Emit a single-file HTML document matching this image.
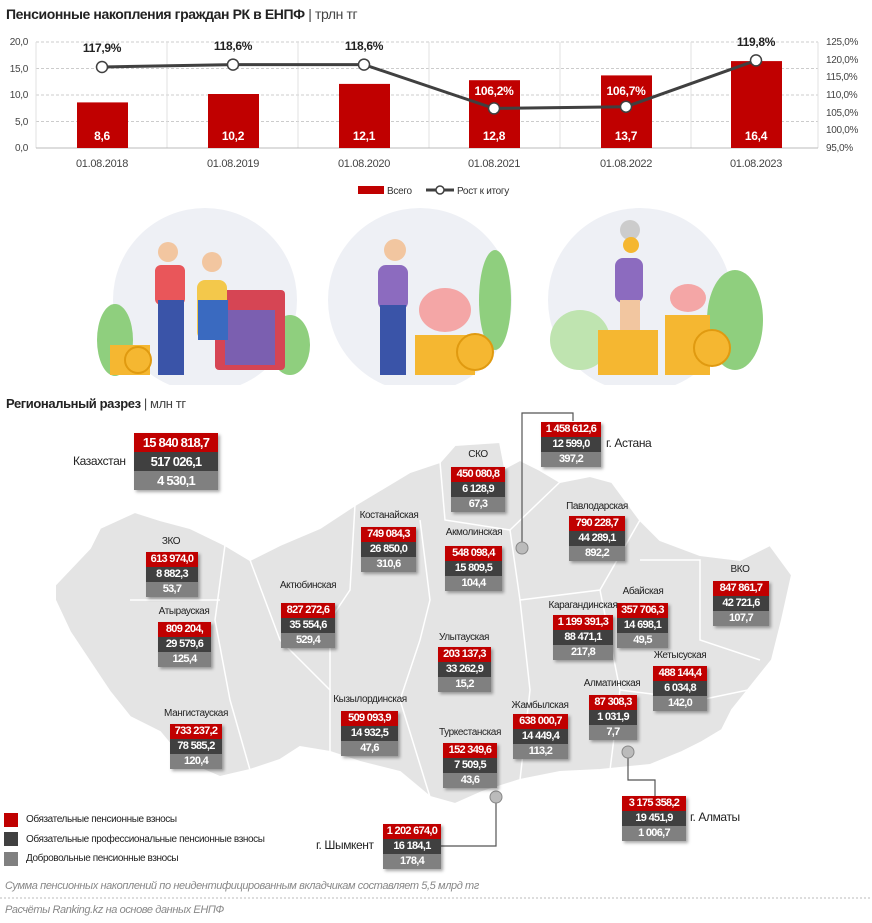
<!DOCTYPE html>
<html><head><meta charset="utf-8">
<style>
body{margin:0;background:#fff;}
#w{position:relative;width:872px;height:923px;overflow:hidden;font-family:"Liberation Sans",sans-serif;color:#222;}
.t{position:absolute;white-space:nowrap;letter-spacing:-0.4px;}
.b{position:absolute;box-shadow:2px 2px 3px rgba(0,0,0,.35);}
.b div{height:15px;line-height:15px;text-align:center;color:#fff;font-weight:bold;font-size:11px;white-space:nowrap;letter-spacing:-0.7px;overflow:visible;}
.r{background:#c00000}.d{background:#404040}.g{background:#808080}
.big div{height:19px;line-height:19px;font-size:13px;letter-spacing:-0.8px;}
.l{font-size:10px;color:#222;transform:translateX(-50%);}
svg text{font-family:"Liberation Sans",sans-serif;letter-spacing:-0.3px;}
</style></head><body><div id="w">
<div class="t" style="left:6px;top:6px;font-size:14px;font-weight:bold;">Пенсионные накопления граждан РК в ЕНПФ <span style="font-weight:normal;color:#444">| трлн тг</span></div>
<svg width="872" height="200" style="position:absolute;left:0;top:0">
<g stroke="#ccc" stroke-dasharray="3,2" stroke-width="1">
<line x1="36" y1="42" x2="818" y2="42"/><line x1="36" y1="68.5" x2="818" y2="68.5"/><line x1="36" y1="95" x2="818" y2="95"/><line x1="36" y1="121.5" x2="818" y2="121.5"/></g>
<g stroke="#e0e0e0"><line x1="36" y1="42" x2="36" y2="148"/><line x1="167" y1="42" x2="167" y2="148"/><line x1="298" y1="42" x2="298" y2="148"/><line x1="429" y1="42" x2="429" y2="148"/><line x1="560" y1="42" x2="560" y2="148"/><line x1="691" y1="42" x2="691" y2="148"/><line x1="818" y1="42" x2="818" y2="148"/></g>
<line x1="36" y1="148" x2="818" y2="148" stroke="#bbb"/>
<g fill="#444" font-size="10" text-anchor="end"><text x="28" y="45">20,0</text><text x="28" y="72">15,0</text><text x="28" y="98">10,0</text><text x="28" y="125">5,0</text><text x="28" y="151">0,0</text></g>
<g fill="#444" font-size="10"><text x="826" y="45">125,0%</text><text x="826" y="63">120,0%</text><text x="826" y="80">115,0%</text><text x="826" y="98">110,0%</text><text x="826" y="116">105,0%</text><text x="826" y="133">100,0%</text><text x="826" y="151">95,0%</text></g>
<g fill="#c00000"><rect x="77" y="102.4" width="51" height="45.6"/><rect x="208" y="94" width="51" height="54"/><rect x="339" y="83.9" width="51" height="64.1"/><rect x="469" y="80.2" width="51" height="67.8"/><rect x="601" y="75.4" width="51" height="72.6"/><rect x="731" y="61.1" width="51" height="86.9"/></g>
<g fill="#fff" font-size="12" font-weight="bold" text-anchor="middle"><text x="102" y="140">8,6</text><text x="233" y="140">10,2</text><text x="364" y="140">12,1</text><text x="494" y="140">12,8</text><text x="626" y="140">13,7</text><text x="756" y="140">16,4</text><text x="494" y="95">106,2%</text><text x="626" y="95">106,7%</text></g>
<g fill="#222" font-size="12" font-weight="bold" text-anchor="middle"><text x="102" y="52">117,9%</text><text x="233" y="50">118,6%</text><text x="364" y="50">118,6%</text><text x="756" y="46">119,8%</text></g>
<polyline points="102,67 233,64.6 364,64.6 494,108.4 626,106.7 756,60.4" fill="none" stroke="#404040" stroke-width="3"/>
<g fill="#fff" stroke="#404040" stroke-width="1.5"><circle cx="102" cy="67" r="5.5"/><circle cx="233" cy="64.6" r="5.5"/><circle cx="364" cy="64.6" r="5.5"/><circle cx="494" cy="108.4" r="5.5"/><circle cx="626" cy="106.7" r="5.5"/><circle cx="756" cy="60.4" r="5.5"/></g>
<g fill="#444" font-size="11" text-anchor="middle"><text x="102" y="167">01.08.2018</text><text x="233" y="167">01.08.2019</text><text x="364" y="167">01.08.2020</text><text x="494" y="167">01.08.2021</text><text x="626" y="167">01.08.2022</text><text x="756" y="167">01.08.2023</text></g>
<rect x="358" y="186" width="26" height="8" fill="#c00000"/><text x="387" y="194" font-size="10" fill="#333">Всего</text>
<line x1="426" y1="190" x2="454" y2="190" stroke="#404040" stroke-width="3"/><circle cx="440" cy="190" r="4" fill="#fff" stroke="#404040" stroke-width="1.5"/><text x="457" y="194" font-size="10" fill="#333">Рост к итогу</text>
</svg>
<svg width="872" height="180" style="position:absolute;left:0;top:205" viewBox="0 205 872 180">
<circle cx="205" cy="300" r="92" fill="#eef0f5"/><circle cx="420" cy="300" r="92" fill="#eef0f5"/><circle cx="640" cy="300" r="92" fill="#eef0f5"/>
<ellipse cx="115" cy="340" rx="18" ry="36" fill="#8fcf7e"/><ellipse cx="290" cy="345" rx="20" ry="30" fill="#8fcf7e"/><ellipse cx="495" cy="300" rx="16" ry="50" fill="#8fcf7e"/><ellipse cx="580" cy="340" rx="30" ry="30" fill="#bfe4b0"/><ellipse cx="735" cy="320" rx="28" ry="50" fill="#8fcf7e"/>
<rect x="215" y="290" width="70" height="80" rx="4" fill="#d64554"/><rect x="225" y="310" width="50" height="55" fill="#7b5fb0"/>
<rect x="155" y="265" width="30" height="40" rx="6" fill="#e9565a"/><rect x="158" y="300" width="26" height="75" fill="#3a54a8"/><circle cx="168" cy="252" r="10" fill="#f2c6a0"/>
<rect x="197" y="280" width="30" height="60" rx="8" fill="#f3c84b"/><rect x="198" y="300" width="30" height="40" fill="#3a6ac0"/><circle cx="212" cy="262" r="10" fill="#f2c6a0"/>
<rect x="110" y="345" width="40" height="30" fill="#f5b731"/><circle cx="138" cy="360" r="13" fill="#f5b731" stroke="#e09a10" stroke-width="2"/>
<rect x="378" y="265" width="30" height="45" rx="8" fill="#8c6bbf"/><rect x="380" y="305" width="26" height="70" fill="#3a54a8"/><circle cx="395" cy="250" r="11" fill="#f2c6a0"/>
<ellipse cx="445" cy="310" rx="26" ry="22" fill="#f4a6a6"/><rect x="415" y="335" width="60" height="40" fill="#f5b731"/><circle cx="475" cy="352" r="18" fill="#f5b731" stroke="#e09a10" stroke-width="2"/>
<rect x="615" y="258" width="28" height="45" rx="8" fill="#8c6bbf"/><rect x="620" y="300" width="20" height="35" fill="#f2c6a0"/><circle cx="630" cy="230" r="10" fill="#ccc"/><circle cx="631" cy="245" r="8" fill="#f5b731"/>
<ellipse cx="688" cy="298" rx="18" ry="14" fill="#f4a6a6"/><rect x="598" y="330" width="60" height="45" fill="#f5b731"/><rect x="665" y="315" width="45" height="60" fill="#f5b731"/><circle cx="712" cy="348" r="18" fill="#f5b731" stroke="#e09a10" stroke-width="2"/>
</svg>
<div class="t" style="left:6px;top:396px;font-size:13px;font-weight:bold;">Региональный разрез <span style="font-weight:normal;color:#444">| млн тг</span></div>
<svg width="872" height="923" style="position:absolute;left:0;top:0">
<polygon fill="#e4e4e4" stroke="#fff" stroke-width="2" points="55,585 90,548 100,528 135,512 160,520 190,528 225,545 250,560 280,545 320,528 355,505 380,490 410,472 440,462 455,445 500,442 505,468 520,460 540,470 560,482 590,476 612,482 640,520 660,540 700,555 740,560 770,545 792,575 782,620 772,660 748,690 732,710 722,730 702,742 682,752 650,765 600,770 560,772 520,780 482,792 455,804 430,797 400,772 360,762 330,752 300,747 280,760 250,770 220,777 185,762 160,732 130,717 110,692 90,662 70,632 55,600"/>
<g fill="none" stroke="#fff" stroke-width="1.5">
<path d="M225,545 L215,620 L230,700 L250,770"/><path d="M130,600 L220,600"/><path d="M250,560 L280,640 L330,690 L330,752"/><path d="M355,505 L350,590 L330,620 L330,690"/><path d="M420,520 L430,600 L420,640 L400,700 L430,797"/><path d="M440,462 L445,520 L510,530 L560,482"/><path d="M510,530 L520,600 L600,590 L640,520"/><path d="M520,600 L530,690 L520,780"/><path d="M600,590 L620,690 L610,770"/><path d="M620,690 L700,700 L748,690"/><path d="M640,560 L700,560 L700,640 L760,660"/></g>
<g fill="none" stroke="#555" stroke-width="1.2"><path d="M522,548 L522,413 L573,413 L573,421"/><path d="M628,752 L628,780 L655,780 L655,796"/><path d="M496,797 L496,846 L441,846"/></g>
<g fill="#bbb" stroke="#888"><ellipse cx="522" cy="548" rx="6" ry="6"/><ellipse cx="628" cy="752" rx="6" ry="6"/><ellipse cx="496" cy="797" rx="6" ry="6"/></g>
<line x1="0" y1="898" x2="872" y2="898" stroke="#bbb" stroke-dasharray="2,2"/>
</svg>
<div class="b big" style="left:134px;top:433px;width:84px"><div class="r">15 840 818,7</div><div class="d">517 026,1</div><div class="g">4 530,1</div></div>
<div class="t" style="left:73px;top:454px;font-size:12px;">Казахстан</div>
<div class="b" style="left:541px;top:422px;width:60px"><div class="r">1 458 612,6</div><div class="d">12 599,0</div><div class="g">397,2</div></div>
<div class="t" style="left:606px;top:436px;font-size:12px;">г. Астана</div>
<div class="t l" style="left:478px;top:449px;">СКО</div>
<div class="b" style="left:451px;top:467px;width:54px"><div class="r">450 080,8</div><div class="d">6 128,9</div><div class="g">67,3</div></div>
<div class="t l" style="left:597px;top:501px;">Павлодарская</div>
<div class="b" style="left:569px;top:516px;width:56px"><div class="r">790 228,7</div><div class="d">44 289,1</div><div class="g">892,2</div></div>
<div class="t l" style="left:389px;top:510px;">Костанайская</div>
<div class="b" style="left:361px;top:527px;width:55px"><div class="r">749 084,3</div><div class="d">26 850,0</div><div class="g">310,6</div></div>
<div class="t l" style="left:474px;top:527px;">Акмолинская</div>
<div class="b" style="left:445px;top:546px;width:57px"><div class="r">548 098,4</div><div class="d">15 809,5</div><div class="g">104,4</div></div>
<div class="t l" style="left:171px;top:536px;">ЗКО</div>
<div class="b" style="left:146px;top:552px;width:52px"><div class="r">613 974,0</div><div class="d">8 882,3</div><div class="g">53,7</div></div>
<div class="t l" style="left:308px;top:580px;">Актюбинская</div>
<div class="b" style="left:281px;top:603px;width:54px"><div class="r">827 272,6</div><div class="d">35 554,6</div><div class="g">529,4</div></div>
<div class="t l" style="left:184px;top:606px;">Атырауская</div>
<div class="b" style="left:158px;top:622px;width:53px"><div class="r">809 204,</div><div class="d">29 579,6</div><div class="g">125,4</div></div>
<div class="t l" style="left:740px;top:564px;">ВКО</div>
<div class="b" style="left:713px;top:581px;width:56px"><div class="r">847 861,7</div><div class="d">42 721,6</div><div class="g">107,7</div></div>
<div class="t l" style="left:643px;top:586px;">Абайская</div>
<div class="b" style="left:617px;top:603px;width:51px"><div class="r">357 706,3</div><div class="d">14 698,1</div><div class="g">49,5</div></div>
<div class="t l" style="left:583px;top:600px;">Карагандинская</div>
<div class="b" style="left:553px;top:615px;width:60px"><div class="r">1 199 391,3</div><div class="d">88 471,1</div><div class="g">217,8</div></div>
<div class="t l" style="left:464px;top:632px;">Улытауская</div>
<div class="b" style="left:438px;top:647px;width:53px"><div class="r">203 137,3</div><div class="d">33 262,9</div><div class="g">15,2</div></div>
<div class="t l" style="left:680px;top:650px;">Жетысуская</div>
<div class="b" style="left:653px;top:666px;width:54px"><div class="r">488 144,4</div><div class="d">6 034,8</div><div class="g">142,0</div></div>
<div class="t l" style="left:612px;top:678px;">Алматинская</div>
<div class="b" style="left:589px;top:695px;width:48px"><div class="r">87 308,3</div><div class="d">1 031,9</div><div class="g">7,7</div></div>
<div class="t l" style="left:540px;top:700px;">Жамбылская</div>
<div class="b" style="left:513px;top:714px;width:55px"><div class="r">638 000,7</div><div class="d">14 449,4</div><div class="g">113,2</div></div>
<div class="t l" style="left:370px;top:694px;">Кызылординская</div>
<div class="b" style="left:341px;top:711px;width:57px"><div class="r">509 093,9</div><div class="d">14 932,5</div><div class="g">47,6</div></div>
<div class="t l" style="left:196px;top:708px;">Мангистауская</div>
<div class="b" style="left:170px;top:724px;width:52px"><div class="r">733 237,2</div><div class="d">78 585,2</div><div class="g">120,4</div></div>
<div class="t l" style="left:470px;top:727px;">Туркестанская</div>
<div class="b" style="left:443px;top:743px;width:54px"><div class="r">152 349,6</div><div class="d">7 509,5</div><div class="g">43,6</div></div>
<div class="b" style="left:622px;top:796px;width:64px"><div class="r">3 175 358,2</div><div class="d">19 451,9</div><div class="g">1 006,7</div></div>
<div class="t" style="left:690px;top:810px;font-size:12px;">г. Алматы</div>
<div class="b" style="left:383px;top:824px;width:58px"><div class="r">1 202 674,0</div><div class="d">16 184,1</div><div class="g">178,4</div></div>
<div class="t" style="left:316px;top:838px;font-size:12px;">г. Шымкент</div>
<div style="position:absolute;left:4px;top:813px;width:14px;height:14px;background:#c00000"></div>
<div style="position:absolute;left:4px;top:832px;width:14px;height:14px;background:#404040"></div>
<div style="position:absolute;left:4px;top:852px;width:14px;height:14px;background:#808080"></div>
<div class="t" style="left:26px;top:814px;font-size:10px;">Обязательные пенсионные взносы</div>
<div class="t" style="left:26px;top:834px;font-size:10px;">Обязательные профессиональные пенсионные взносы</div>
<div class="t" style="left:26px;top:853px;font-size:10px;">Добровольные пенсионные взносы</div>
<div class="t" style="left:5px;top:880px;font-size:11px;font-style:italic;color:#888;">Сумма пенсионных накоплений по неидентифицированным вкладчикам составляет 5,5 млрд тг</div>
<div class="t" style="left:5px;top:904px;font-size:11px;font-style:italic;color:#888;">Расчёты Ranking.kz на основе данных ЕНПФ</div>
</div></body></html>
